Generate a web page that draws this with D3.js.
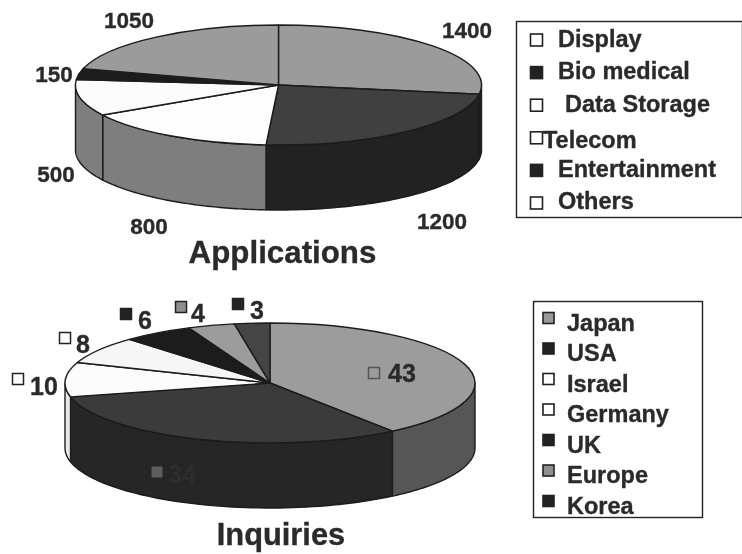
<!DOCTYPE html>
<html>
<head>
<meta charset="utf-8">
<script src="https://cdn.jsdelivr.net/npm/d3@7/dist/d3.min.js"></script>
<style>
html,body{margin:0;padding:0;background:#fff}
svg{display:block}
text{font-family:"Liberation Sans",Arial,sans-serif;font-weight:bold;fill:#2b2b2b;stroke:#2b2b2b;stroke-width:0.35px}
</style>
</head>
<body>
<svg id="chart" width="742" height="554"></svg>
<script>
// ---- data ----
const appCategories = ["Display","Bio medical","Data Storage","Telecom","Entertainment","Others"];
const appValues = [1400,1200,800,500,150,1050];
const appTitle = "Applications";

const inqCategories = ["Japan","USA","Israel","Germany","UK","Europe","Korea"];
const inqValues = [43,34,10,8,6,4,3];
const inqTitle = "Inquiries";

// ---- styles ----
const appTop  = ["#9b9b9b","#3f3f3f","#fdfdfd","#fbfbfb","#1e1e1e","#9b9b9b"];
const appSide = ["#222222","#222222","#7e7e7e","#7e7e7e","#222222","#777777"];
const appMark = ["#ffffff","#222222","#ffffff","#ffffff","#222222","#ffffff"];
const inqTop  = ["#9c9c9c","#3a3a3a","#fcfcfc","#f6f6f6","#1e1e1e","#9c9c9c","#444444"];
const inqSide = ["#575757","#252525","#e8e8e8","#f0f0f0","#222222","#666666","#333333"];
const inqLegendMark = ["#999999","#222222","#ffffff","#ffffff","#222222","#8f8f8f","#222222"];
const inqLabelMark  = ["none","#5c5c5c","#ffffff","#ffffff","#222222","#8f8f8f","#222222"];
const inqLabelMarkStroke = ["#555555","none","#222222","#222222","#222222","#222222","#222222"];
const inqLabelFill = ["#2b2b2b","#2e2e2e","#2b2b2b","#2b2b2b","#2b2b2b","#2b2b2b","#2b2b2b"];

// ---- layout ----
const appGeom = {cx:278.5,cy:85,rx:203,ry:60,depth:65};
const inqGeom = {cx:270,cy:383,rx:205,ry:60,depth:65};
const appLabelAt = [[467,38],[442,229],[149,234],[56,182],[54,82],[129,28]];
const inqLabelAt = [[402,382],[182,483],[44,395],[83,353],[145,329],[198,322],[257,319]];
const inqMarkAt  = [[374,373],[157,472],[18,379],[65,338],[126,314],[181,307],[238,304]];
const appLegendBox = {x:516.5,y:21.5,w:226,h:196};
const inqLegendBox = {x:533.5,y:301.5,w:169,h:216};
const appLegendDx = [0,0,7,-15,0,0];
const appLegendDy = [0,-1,0,3,0,-1];

const svg = d3.select("#chart");
const defs = svg.append("defs");
defs.append("filter").attr("id","scan").attr("x","0").attr("y","0").attr("width","1").attr("height","1")
  .append("feGaussianBlur").attr("stdDeviation",0.5);
const root = svg.append("g").attr("filter","url(#scan)");
root.append("rect").attr("width",742).attr("height",554).attr("fill","#fff");

function drawPie(values, geom, top, side){
  const {cx,cy,rx,ry,depth} = geom;
  const slices = d3.pie().sort(null)(values);
  const g = root.append("g");
  const px = a => cx + rx*Math.sin(a);
  const py = a => cy - ry*Math.cos(a);
  const h = Math.PI/2, lo = h, hi = 3*h;
  // sides
  slices.forEach((s,i)=>{
    const a0 = Math.max(s.startAngle,lo), a1 = Math.min(s.endAngle,hi);
    if(a1<=a0) return;
    const n = 60, st = (a1-a0)/n;
    const pts = d3.range(n+1).map(k=>a0+k*st);
    const p = d3.path();
    pts.forEach((a,k)=> k? p.lineTo(px(a),py(a)) : p.moveTo(px(a),py(a)));
    pts.slice().reverse().forEach(a=>p.lineTo(px(a),py(a)+depth));
    p.closePath();
    g.append("path").attr("d",p.toString()).attr("fill",side[i])
      .attr("stroke","#1c1c1c").attr("stroke-width",1.4).attr("stroke-linejoin","round");
  });
  // top faces
  const arc = d3.arc().innerRadius(0).outerRadius(rx);
  const topG = g.append("g").attr("transform",`translate(${cx},${cy}) scale(1,${ry/rx})`);
  topG.selectAll("path").data(slices).enter().append("path")
    .attr("d",arc)
    .attr("fill",(d,i)=>top[i])
    .attr("stroke","#1c1c1c").attr("stroke-width",1.4)
    .attr("stroke-linejoin","round")
    .attr("vector-effect","non-scaling-stroke");
}

drawPie(appValues, appGeom, appTop, appSide);
drawPie(inqValues, inqGeom, inqTop, inqSide);

// data labels
root.append("g").selectAll("text").data(appValues).enter().append("text")
  .attr("x",(d,i)=>appLabelAt[i][0]).attr("y",(d,i)=>appLabelAt[i][1])
  .attr("text-anchor","middle").attr("font-size",22.5).text(d=>d);
root.append("g").selectAll("rect").data(inqValues).enter().append("rect")
  .attr("x",(d,i)=>inqMarkAt[i][0]-5.5).attr("y",(d,i)=>inqMarkAt[i][1]-5.5)
  .attr("width",11).attr("height",11)
  .attr("fill",(d,i)=>inqLabelMark[i])
  .attr("stroke",(d,i)=>inqLabelMarkStroke[i]).attr("stroke-width",1.5);
root.append("g").selectAll("text").data(inqValues).enter().append("text")
  .attr("x",(d,i)=>inqLabelAt[i][0]).attr("y",(d,i)=>inqLabelAt[i][1])
  .attr("text-anchor","middle").attr("font-size",25)
  .style("fill",(d,i)=>inqLabelFill[i]).style("stroke",(d,i)=>inqLabelFill[i]).text(d=>d);

// titles
root.append("text").attr("x",282.5).attr("y",263).attr("text-anchor","middle").attr("font-size",31.3).text(appTitle);
root.append("text").attr("x",281).attr("y",545).attr("text-anchor","middle").attr("font-size",30.8).text(inqTitle);

// legends
function legend(names, box, markX, markSize, textX, yScale, baseOff, fills, dx, dy){
  const g = root.append("g");
  g.append("rect").attr("x",box.x).attr("y",box.y).attr("width",box.w).attr("height",box.h)
    .attr("fill","#fff").attr("stroke","#222").attr("stroke-width",1.4);
  names.forEach((n,i)=>{
    g.append("rect").attr("x",markX).attr("y",yScale(i)-markSize/2)
      .attr("width",markSize).attr("height",markSize)
      .attr("fill",fills[i]).attr("stroke","#222").attr("stroke-width",1.6);
    g.append("text").attr("x",textX+(dx?dx[i]:0)).attr("y",yScale(i)+baseOff+(dy?dy[i]:0))
      .attr("font-size",23.5).text(n);
  });
}
legend(appCategories, appLegendBox, 530.5, 12, 558,
  d3.scaleLinear().domain([0,appCategories.length-1]).range([40,203]), 7, appMark, appLegendDx, appLegendDy);
legend(inqCategories, inqLegendBox, 543, 11, 567,
  d3.scaleLinear().domain([0,inqCategories.length-1]).range([318,501]), 12.5, inqLegendMark, null, null);
</script>
</body>
</html>
